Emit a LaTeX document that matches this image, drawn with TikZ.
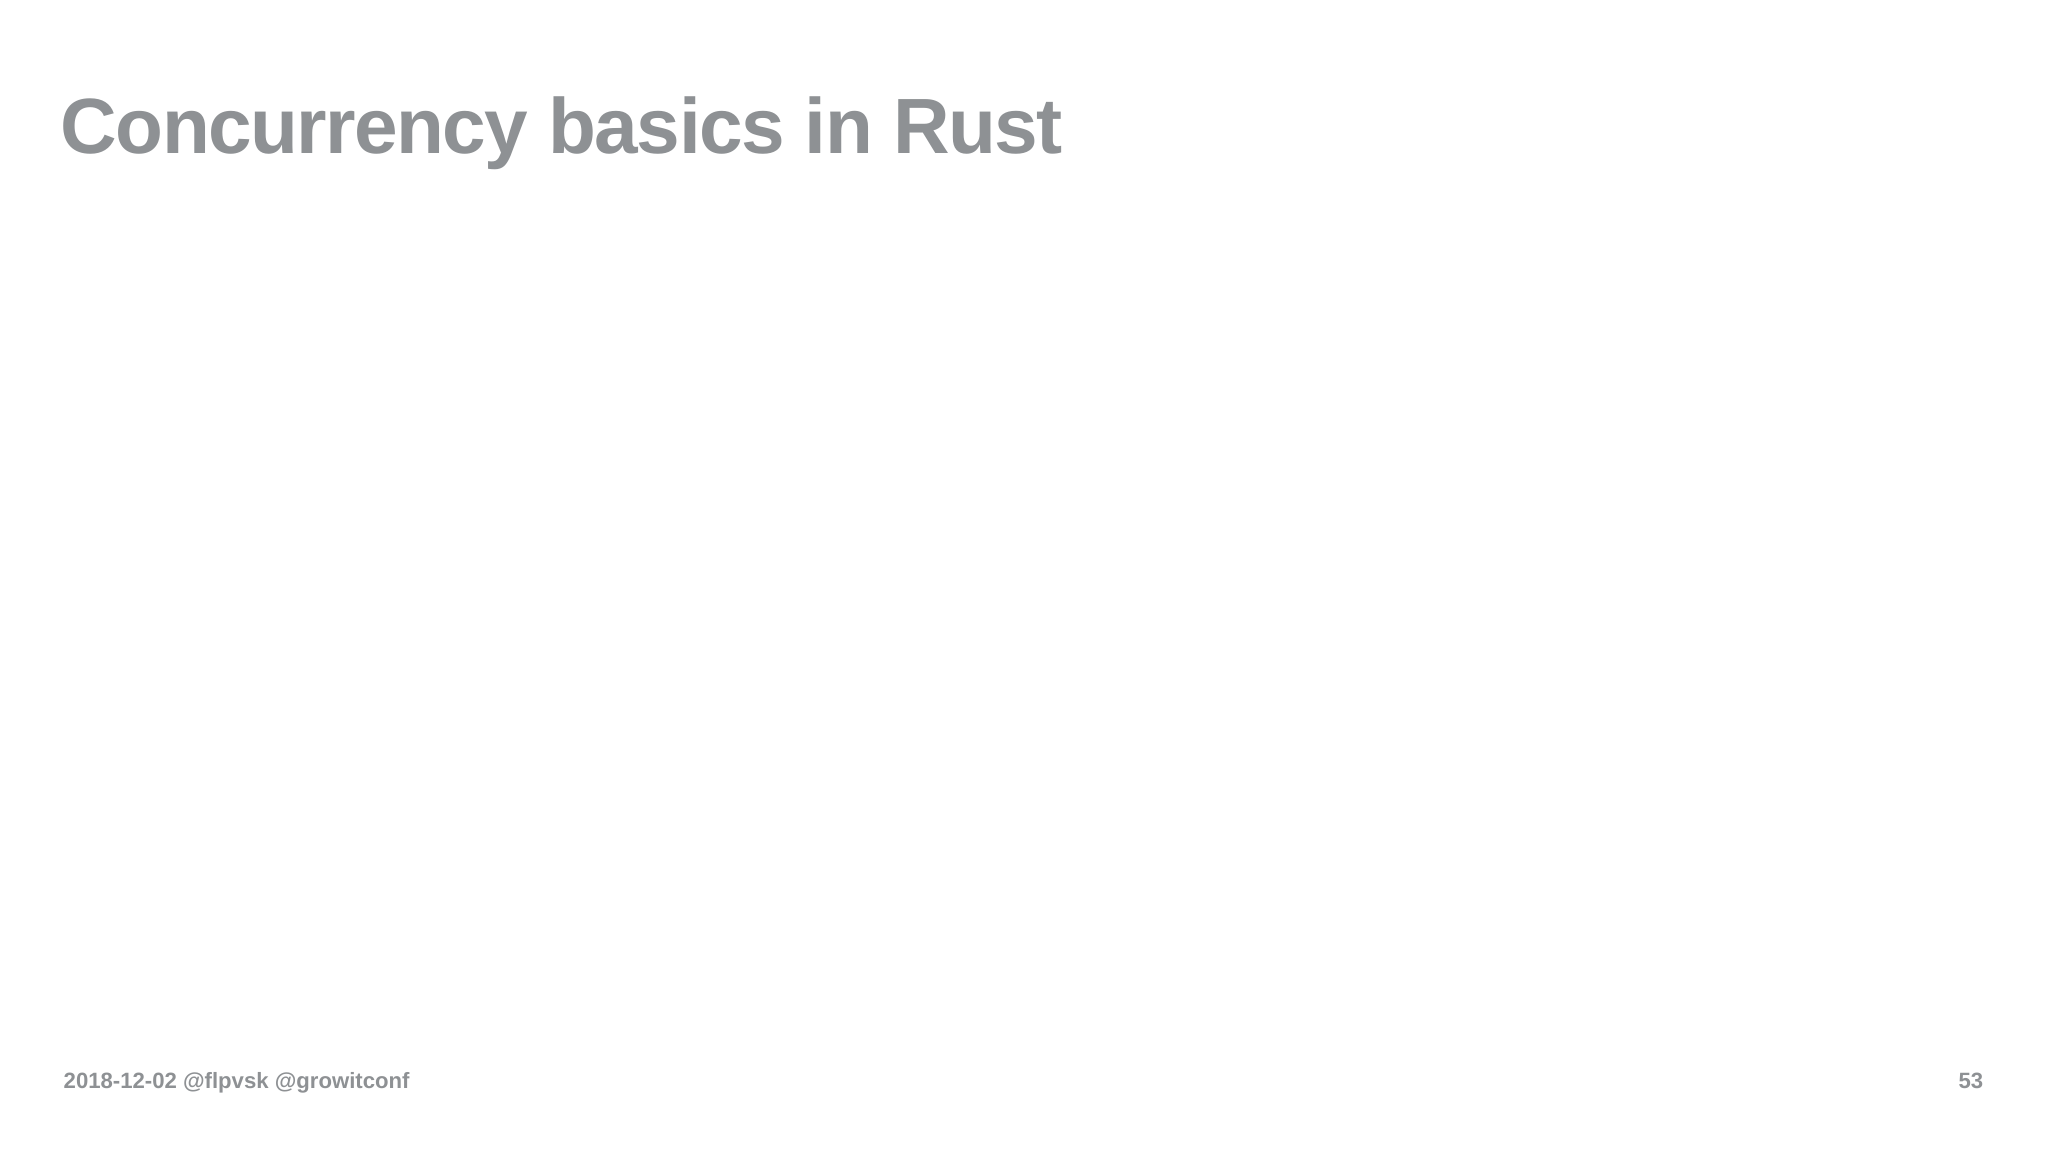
\documentclass[tikz,border=0pt]{standalone}
\usepackage{fontspec}
\setmainfont{Liberation Sans}
\newfontfamily\titlefont[LetterSpace=-2]{Liberation Sans}
\definecolor{slategray}{HTML}{8E9194}
\begin{document}
\begin{tikzpicture}[
  titletext/.style={anchor=base west, inner sep=0pt, text=slategray, font=\titlefont\fontsize{22.3}{26}\selectfont\bfseries},
  foottext/.style={inner sep=0pt, text=slategray, font=\fontsize{6.3}{8}\selectfont\bfseries}]
\useasboundingbox[fill=white] (0,0) rectangle (20.48,11.52);
\node[titletext] (title) at (0.6,9.98) {Concurrency basics in Rust};
\node[foottext, anchor=base west] (date) at (0.63,0.63) {2018-12-02 @flpvsk @growitconf};
\node[foottext, anchor=base east] (page) at (19.84,0.63) {53};
\end{tikzpicture}
\end{document}
